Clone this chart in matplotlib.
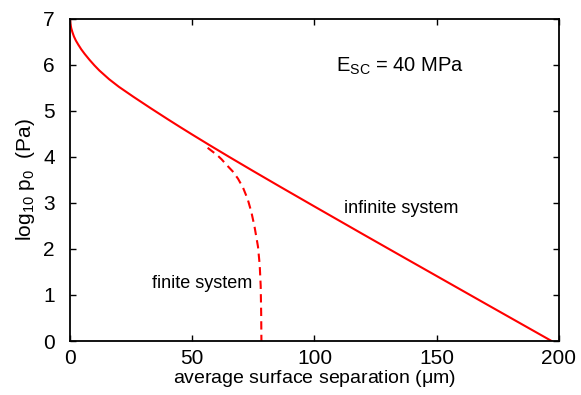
import numpy as np
import matplotlib
matplotlib.use("Agg")
import matplotlib.pyplot as plt

plt.rcParams['font.family'] = ['Liberation Sans', 'DejaVu Sans']
plt.rcParams['mathtext.fontset'] = 'custom'
plt.rcParams['mathtext.rm'] = 'Liberation Sans'
plt.rcParams['mathtext.it'] = 'Liberation Sans'

# infinite system
x_inf = [0, 0.15, 0.5, 1.0, 1.6, 2.4, 3.4, 4.6, 6, 8, 10, 12, 16, 20, 26, 33,
         40, 45, 50, 57, 65, 75, 86, 100, 120, 137, 150, 170, 197]
y_inf = [7.0, 6.9, 6.8, 6.71, 6.62, 6.53, 6.44, 6.34, 6.24, 6.11, 5.99, 5.88,
         5.69, 5.525, 5.306, 5.06, 4.82, 4.652, 4.487, 4.26, 4.005, 3.692,
         3.352, 2.924, 2.316, 1.803, 1.412, 0.81, 0.0]

# finite system
x_fin = [56.3, 58, 60, 62, 64, 66.5, 68.7, 70.8, 72.7, 74.2, 75.5, 76.9, 77.6,
         78.0, 78.2, 78.3]
y_fin = [4.2, 4.13, 4.05, 3.95, 3.83, 3.69, 3.53, 3.33, 3.08, 2.80, 2.48, 2.05,
         1.65, 1.2, 0.6, 0.0]

fig = plt.figure(figsize=(5.81, 3.95), dpi=100)
ax = fig.add_axes([0.1205, 0.1367, 0.8415, 0.8153])

ax.plot(x_inf, y_inf, color='red', lw=1.5)
ax.plot(x_fin, y_fin, color='red', lw=1.5, ls=(0, (4, 2.5)))

ax.set_xlim(0, 200)
ax.set_ylim(0, 7)
ax.set_xticks([0, 50, 100, 150, 200])
ax.set_yticks(range(8))
ax.tick_params(direction='in', top=True, right=True, length=4, width=1,
               labelsize=15)
ax.tick_params(axis='x', pad=5.5)
ax.tick_params(axis='y', pad=11)
for s in ax.spines.values():
    s.set_linewidth(1.3)

ax.set_xlabel(r'average surface separation ($\mu$m)', fontsize=14, labelpad=0)
ax.set_ylabel(r'log$_{10}$ p$_0$  (Pa)', fontsize=15, labelpad=4)

ax.text(112, 2.78, 'infinite system', fontsize=13)
ax.text(33.5, 1.15, 'finite system', fontsize=13)
ax.text(109, 5.85, r'E$_{\rm SC}$ = 40 MPa', fontsize=14.5)

fig.savefig('out.png', dpi=100)
